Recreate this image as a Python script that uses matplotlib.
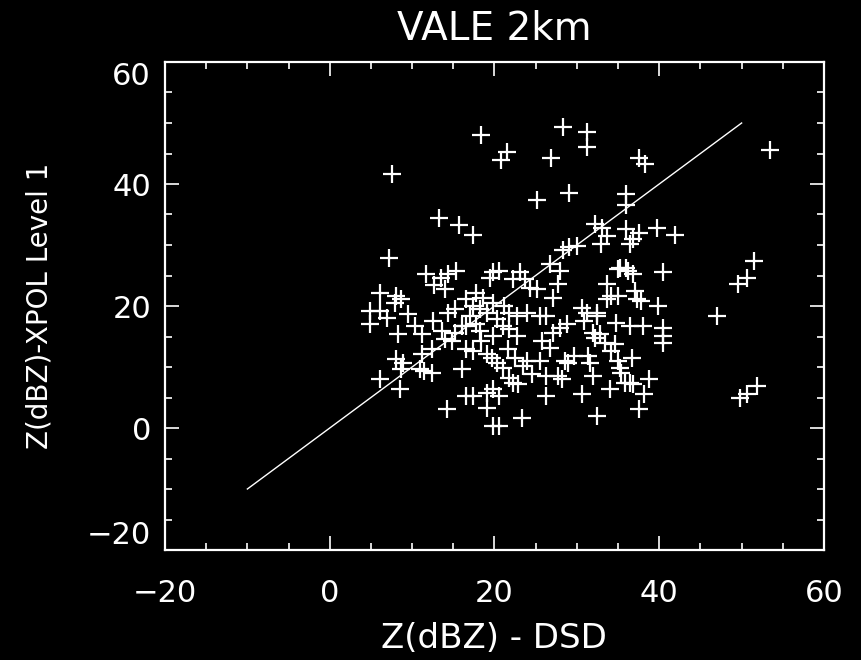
import matplotlib
matplotlib.use("Agg")
import matplotlib.pyplot as plt
from matplotlib.ticker import MultipleLocator

# Reflectivity pairs: DSD-derived Z (x) vs XPOL Level 1 Z (y), in dBZ
z_dsd = [
    18.4, 21.5, 20.8, 7.6, 25.2, 13.3, 15.7, 17.4, 7.2, 28.3,
    31.2, 31.2, 26.9, 37.6, 38.3, 53.5, 29.1, 36.0, 36.0, 32.2,
    33.0, 32.9, 33.7, 36.0, 37.6, 39.7, 41.9, 36.4, 36.8, 28.3,
    29.1, 30.0, 26.7, 51.5, 35.2, 36.0, 40.4, 11.7, 13.5, 14.3,
    15.3, 12.7, 14.0, 6.1, 8.1, 8.7, 7.9, 4.9, 6.1, 7.0,
    4.9, 9.5, 14.3, 15.2, 12.5, 10.3, 8.3, 11.2, 13.6, 15.2,
    16.0, 27.9, 19.8, 20.6, 19.4, 23.1, 22.2, 23.7, 24.3, 25.1,
    27.1, 27.7, 17.8, 16.6, 18.6, 19.8, 18.2, 17.0, 19.1, 21.8,
    22.7, 23.9, 25.5, 26.3, 16.6, 17.8, 18.2, 21.0, 21.8, 19.8,
    22.7, 27.1, 27.9, 35.0, 36.2, 36.8, 33.6, 34.2, 33.7, 35.0,
    37.0, 37.3, 37.8, 39.8, 30.6, 31.2, 32.4, 32.5, 30.9, 34.8,
    36.4, 38.0, 40.4, 31.9, 32.8, 40.4, 14.0, 14.8, 12.4, 11.2,
    8.1, 8.9, 8.7, 10.9, 11.5, 12.4, 6.1, 8.5, 16.0, 14.2,
    16.6, 17.4, 18.4, 25.8, 26.7, 21.6, 19.1, 19.7, 20.3, 21.0,
    22.5, 23.4, 24.0, 25.5, 28.5, 24.5, 26.3, 27.7, 28.2, 21.8,
    22.8, 22.2, 16.6, 17.4, 19.1, 19.8, 20.6, 19.1, 26.3, 23.3,
    19.8, 20.6, 32.2, 33.4, 34.6, 34.2, 40.4, 29.7, 31.3, 28.9,
    31.6, 35.0, 36.7, 35.2, 35.4, 31.9, 35.8, 36.4, 36.8, 38.8,
    34.0, 30.6, 38.2, 37.6, 32.4, 50.6, 49.5, 47.0, 51.9, 50.7,
    49.8, 21.2, 20.3, 17.4, 28.8,
]
z_xpol = [
    48.1, 45.2, 44.0, 41.7, 37.4, 34.5, 33.2, 31.7, 27.9, 49.3,
    48.6, 46.1, 44.3, 44.3, 43.3, 45.5, 38.6, 38.4, 36.6, 33.5,
    32.8, 30.2, 31.5, 32.7, 32.0, 32.8, 31.7, 30.2, 31.0, 29.1,
    29.6, 29.9, 26.9, 27.4, 26.3, 26.3, 25.6, 25.3, 24.6, 25.3,
    25.8, 23.5, 22.8, 22.2, 21.7, 21.2, 20.5, 19.2, 19.2, 18.1,
    17.1, 18.7, 18.9, 19.5, 17.6, 16.7, 15.4, 15.4, 15.9, 15.6,
    16.7, 25.8, 25.5, 25.8, 24.6, 25.5, 24.5, 24.5, 23.0, 22.8,
    21.3, 23.6, 22.2, 21.2, 21.3, 20.5, 19.5, 18.4, 18.9, 18.9,
    18.4, 18.9, 18.4, 18.4, 16.7, 17.1, 15.9, 16.7, 16.3, 15.1,
    15.1, 15.6, 16.4, 26.1, 25.8, 25.3, 23.6, 21.7, 21.2, 21.7,
    22.5, 21.2, 20.9, 20.0, 19.7, 18.9, 18.9, 18.4, 17.6, 17.2,
    16.7, 16.7, 16.4, 15.6, 15.4, 15.1, 14.6, 14.3, 13.0, 12.2,
    11.3, 10.7, 9.7, 9.7, 9.4, 9.0, 8.0, 6.4, 9.7, 3.1,
    13.0, 12.6, 14.3, 14.3, 13.1, 13.0, 12.2, 11.5, 10.7, 9.9,
    11.5, 10.2, 11.0, 11.0, 11.0, 8.9, 8.5, 8.5, 8.0, 8.2,
    7.2, 7.4, 5.3, 5.3, 5.7, 6.4, 5.3, 3.3, 5.3, 1.6,
    0.3, 0.3, 14.8, 14.0, 13.8, 12.6, 14.0, 11.8, 11.8, 10.7,
    10.7, 11.0, 11.5, 9.9, 9.0, 8.5, 7.4, 7.4, 7.2, 8.0,
    6.4, 5.6, 5.6, 3.1, 2.0, 24.6, 23.6, 18.4, 6.9, 5.6,
    4.9, 20.0, 17.9, 20.0, 17.1,
]

# One-to-one reference line
ref_line = [-10, 50]

x_range = (-20, 60)
y_range = (-20, 60)
major_step = 20
minor_step = 5

title = "VALE 2km"
x_title = "Z(dBZ) - DSD"
y_title = "Z(dBZ)-XPOL Level 1"

fg = "white"
bg = "black"
font = ["DejaVu Sans"]

fig = plt.figure(figsize=(8.62, 6.6), dpi=100, facecolor=bg)
ax = fig.add_axes([165 / 862, 1 - 550 / 660, 659 / 862, 488 / 660], facecolor=bg)

ax.plot(ref_line, ref_line, color=fg, lw=1.0, zorder=2)
ax.plot(z_dsd, z_xpol, linestyle="none", marker="+", color=fg,
        markersize=13, markeredgewidth=1.6, zorder=3)

ax.set_xlim(*x_range)
ax.set_ylim(*y_range)
ax.xaxis.set_major_locator(MultipleLocator(major_step))
ax.xaxis.set_minor_locator(MultipleLocator(minor_step))
ax.yaxis.set_major_locator(MultipleLocator(major_step))
ax.yaxis.set_minor_locator(MultipleLocator(minor_step))

for side in ax.spines.values():
    side.set_color(fg)
    side.set_linewidth(1.6)

ax.tick_params(which="both", direction="in", colors=fg, top=True, right=True,
               labeltop=False, labelright=False)
ax.tick_params(which="major", length=10, width=1.2)
ax.tick_params(which="minor", length=5, width=1.2)
ax.tick_params(axis="x", which="major", pad=21, labelsize=22)
ax.tick_params(axis="y", which="major", pad=10, labelsize=22)

fig.canvas.draw()
for lab in ax.get_xticklabels() + ax.get_yticklabels():
    lab.set_family(font)
    lab.set_color(fg)

# End labels on the y axis sit inside the frame
for tick in ax.yaxis.get_major_ticks():
    val = tick.get_loc()
    if abs(val - y_range[0]) < 1e-6:
        tick.label1.set_verticalalignment("bottom")
    elif abs(val - y_range[1]) < 1e-6:
        tick.label1.set_verticalalignment("top")

fig.text(494 / 862, 1 - 29 / 660, title, color=fg, fontsize=28,
         family=font, ha="center", va="center")
fig.text(494 / 862, 1 - 638 / 660, x_title, color=fg, fontsize=24.5,
         family=font, ha="center", va="center")
fig.text(40 / 862, 1 - 306 / 660, y_title, color=fg, fontsize=20,
         family=font, ha="center", va="center", rotation=90)

fig.savefig("out.png", dpi=100, facecolor=bg)
